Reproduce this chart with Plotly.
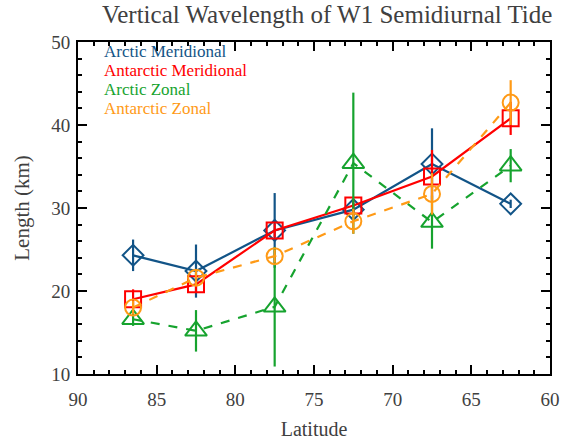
import plotly.graph_objects as go

# Latitude bins (degrees)
latitude = [86.5, 82.5, 77.5, 72.5, 67.5, 62.5]

# Vertical wavelength (km) and uncertainties
arctic_merid = [24.3, 22.4, 27.3, 29.8, 35.3, 30.5]
arctic_merid_err = [1.9, 3.2, 4.5, 0.8, 4.3, 0.5]

antarctic_merid = [19.0, 20.8, 27.3, 30.3, 33.8, 40.8]
antarctic_merid_err = [1.2, 1.0, 0.8, 0.8, 3.2, 2.0]

arctic_zonal = [16.6, 15.2, 18.1, 35.4, 28.3, 35.1]
arctic_zonal_err = [0.8, 2.5, 7.2, 8.5, 3.2, 2.0]

antarctic_zonal = [18.0, 21.6, 24.2, 28.4, 31.7, 42.7]
antarctic_zonal_err = [0.8, 1.0, 0.8, 1.5, 2.5, 2.7]

series_names = ["Arctic Meridional", "Antarctic Meridional", "Arctic Zonal", "Antarctic Zonal"]
colors = ["#125487", "#ff0000", "#16a32e", "#ff9a16"]
symbols = ["diamond-open", "square-open", "triangle-up-open", "circle-open"]
marker_sizes = [16, 16, 19, 16]
dashes = ["solid", "solid", "dash", "dash"]
values = [arctic_merid, antarctic_merid, arctic_zonal, antarctic_zonal]
errors = [arctic_merid_err, antarctic_merid_err, arctic_zonal_err, antarctic_zonal_err]

FONT = "Liberation Serif"
TEXT = "#404040"

fig = go.Figure()
for name, y, err, c, sym, ms, dash in zip(series_names, values, errors, colors,
                                          symbols, marker_sizes, dashes):
    fig.add_trace(go.Scatter(
        x=latitude, y=y, name=name, mode="lines+markers",
        line=dict(color=c, width=2.2, dash=dash),
        marker=dict(symbol=sym, size=ms, color=c, line=dict(color=c, width=2)),
        error_y=dict(type="data", array=err, visible=True, color=c, thickness=2.2, width=0),
    ))

# Legend as coloured text labels in the upper-left corner
for i, (name, c) in enumerate(zip(series_names, colors)):
    fig.add_annotation(
        xref="paper", yref="paper", x=0.05, y=1.005 - i * 0.0568,
        text=name, showarrow=False, xanchor="left", yanchor="top",
        font=dict(family=FONT, size=17, color=c),
    )

axis_common = dict(
    showline=True, linecolor="black", linewidth=2, mirror="ticks",
    ticks="inside", ticklen=9, tickwidth=1.6, tickcolor="black",
    showgrid=False, zeroline=False, automargin=False,
    tickfont=dict(family=FONT, size=19, color=TEXT),
)

fig.update_xaxes(
    range=[90, 60], dtick=5, tick0=60, ticklabelstandoff=7,
    title=dict(text="Latitude", font=dict(family=FONT, size=20, color=TEXT), standoff=13),
    minor=dict(dtick=1, ticks="inside", ticklen=4, tickwidth=1.6, tickcolor="black"),
    **axis_common,
)
fig.update_yaxes(
    range=[10, 50], dtick=10, ticklabelstandoff=2,
    title=dict(text="Length (km)", font=dict(family=FONT, size=21, color=TEXT), standoff=16),
    minor=dict(dtick=2, ticks="inside", ticklen=4, tickwidth=1.6, tickcolor="black"),
    **axis_common,
)

fig.update_layout(
    width=569, height=440,
    margin=dict(l=78, r=19, t=42, b=66),
    paper_bgcolor="white", plot_bgcolor="white",
    showlegend=False,
    title=dict(text="Vertical Wavelength of W1 Semidiurnal Tide",
               x=0.575, xanchor="center", y=0.967, yanchor="middle",
               font=dict(family=FONT, size=25, color=TEXT)),
)

fig.write_html("out.html")
